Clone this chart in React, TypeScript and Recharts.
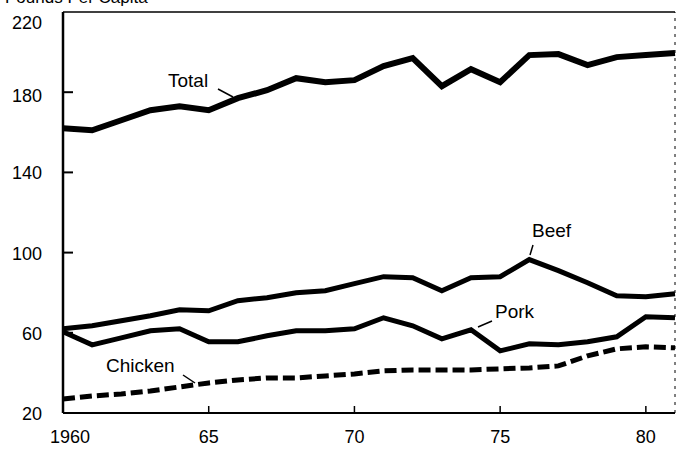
import { LineChart, Line, XAxis, YAxis, ReferenceLine } from 'recharts'

const years = [1960, 1961, 1962, 1963, 1964, 1965, 1966, 1967, 1968, 1969, 1970, 1971, 1972, 1973, 1974, 1975, 1976, 1977, 1978, 1979, 1980, 1981]
const total = [162, 161, 166, 171, 173, 171, 177, 181, 187, 185, 186, 193, 197, 183, 191.5, 185, 198.5, 199, 193.5, 197.5, 198.5, 199.5]
const beef = [62, 63.5, 66, 68.5, 71.5, 71, 76, 77.5, 80, 81, 84.5, 88, 87.5, 81, 87.5, 88, 96.5, 91, 85, 78.5, 78, 79.5]
const pork = [60.5, 54, 57.5, 61, 62, 55.5, 55.5, 58.5, 61, 61, 62, 67.5, 63.5, 57, 61.5, 51, 54.5, 54, 55.5, 58, 68, 67.5]
const chicken = [27, 28.5, 29.5, 31, 33, 35, 36.5, 37.5, 37.5, 38.5, 39.5, 41, 41.5, 41.5, 41.5, 42, 42.5, 43.5, 48.5, 52, 53, 52.5]

const xTicks = [1960, 1965, 1970, 1975, 1980]
const xTickLabels = ['1960', '65', '70', '75', '80']
const yTicks = [20, 60, 100, 140, 180, 220]

const FONT = '"Liberation Sans", Arial, Helvetica, sans-serif'

const data = years.map((year, i) => ({
  year,
  total: total[i],
  beef: beef[i],
  pork: pork[i],
  chicken: chicken[i],
}))

// ticks point into the plot, like the scanned original
function YTick(props: any) {
  const { x, y, payload } = props
  const v = payload.value
  const dy = v === 220 ? 11 : v === 180 ? 4 : 1
  return (
    <g>
      {v !== 20 && v !== 220 && (
        <line x1={x} x2={x + 10} y1={y} y2={y} stroke="#000" strokeWidth={2} />
      )}
      <text x={x - 21} y={y + dy} textAnchor="end" dominantBaseline="central" fontSize={18} fontFamily={FONT} fill="#000">
        {v}
      </text>
    </g>
  )
}

function XTick(props: any) {
  const { x, y, payload, index } = props
  const i = xTicks.indexOf(payload.value)
  const dx = index === 0 ? 7 : 0
  return (
    <g>
      {index !== 0 && <line x1={x} x2={x} y1={y} y2={y - 7} stroke="#000" strokeWidth={1.5} />}
      <text x={x + dx} y={y + 24} textAnchor="middle" dominantBaseline="central" fontSize={18} fontFamily={FONT} fill="#000">
        {xTickLabels[i]}
      </text>
    </g>
  )
}

const labelStyle = { fontSize: 19, fontFamily: FONT, fill: '#000' }

export default function App() {
  return (
    <div style={{ position: 'absolute', left: 0, top: 0, width: 676, height: 451, background: '#fff' }}>
      <LineChart width={676} height={451} data={data} margin={{ top: 12, right: 1, bottom: 0, left: 0 }}>
        <XAxis
          dataKey="year"
          type="number"
          domain={[1960, 1981]}
          ticks={xTicks}
          height={38}
          tickSize={0}
          tickMargin={0}
          tickLine={false}
          axisLine={{ stroke: '#000', strokeWidth: 2 }}
          tick={<XTick />}
        />
        <YAxis
          domain={[20, 220]}
          ticks={yTicks}
          width={63}
          tickSize={0}
          tickMargin={0}
          tickLine={false}
          axisLine={{ stroke: '#000', strokeWidth: 2.5 }}
          tick={<YTick />}
        />

        {/* frame: top line and faint right edge */}
        <ReferenceLine y={220} stroke="#000" strokeWidth={1.5} />
        <ReferenceLine x={1981} stroke="#000" strokeWidth={1} strokeDasharray="3 5" />

        <Line type="linear" dataKey="total" stroke="#000" strokeWidth={6} dot={false} isAnimationActive={false} />
        <Line type="linear" dataKey="beef" stroke="#000" strokeWidth={5} dot={false} isAnimationActive={false} />
        <Line type="linear" dataKey="pork" stroke="#000" strokeWidth={5} dot={false} isAnimationActive={false} />
        <Line
          type="linear"
          dataKey="chicken"
          stroke="#000"
          strokeWidth={5}
          strokeDasharray="12 5"
          dot={false}
          isAnimationActive={false}
        />

        <g>
          <text x={5} y={3} fontSize={17} fontFamily={FONT} fill="#000">Pounds Per Capita</text>

          <text x={168} y={80} dominantBaseline="central" {...labelStyle}>Total</text>
          <line x1={218} y1={89} x2={233} y2={97} stroke="#000" strokeWidth={1.5} />

          <text x={532} y={230} dominantBaseline="central" {...labelStyle}>Beef</text>
          <line x1={533} y1={245} x2={530} y2={255} stroke="#000" strokeWidth={1.5} />

          <text x={495} y={311} dominantBaseline="central" {...labelStyle}>Pork</text>
          <line x1={478} y1={327} x2={492} y2={321} stroke="#000" strokeWidth={1.5} />

          <text x={106} y={365} dominantBaseline="central" {...labelStyle}>Chicken</text>
          <line x1={183} y1={375} x2={195} y2={383} stroke="#000" strokeWidth={1.5} />
        </g>
      </LineChart>
    </div>
  )
}
